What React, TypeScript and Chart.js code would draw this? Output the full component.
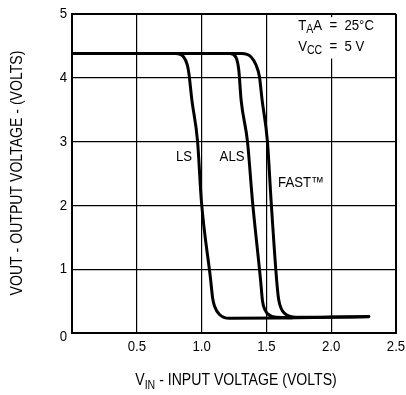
import React, { useEffect, useRef } from "react";
import { Chart, registerables } from "chart.js";

Chart.register(...registerables);

const FONT = '"Liberation Sans", Arial, sans-serif';
const SX = 0.88; // horizontal condensing of all text

const xTicks = [0, 0.5, 1.0, 1.5, 2.0, 2.5];
const yTicks = [0, 1, 2, 3, 4, 5];

const lsX = [0, 0.8, 0.86, 0.89, 0.902, 0.925, 0.969, 0.998, 1.07, 1.085, 1.1, 1.138, 1.215, 1.6, 2.0, 2.29];
const lsY = [4.38, 4.38, 4.33, 4.2, 4.07, 3.65, 3.0, 2.08, 0.83, 0.55, 0.42, 0.29, 0.23, 0.235, 0.245, 0.255];

const alsX = [0, 1.22, 1.265, 1.287, 1.305, 1.354, 1.392, 1.455, 1.47, 1.49, 1.51, 1.575, 1.7];
const alsY = [4.38, 4.38, 4.32, 4.12, 3.65, 3.0, 2.08, 0.83, 0.5, 0.36, 0.3, 0.245, 0.24];

const fastX = [0, 1.31, 1.38, 1.42, 1.446, 1.467, 1.508, 1.536, 1.579, 1.595, 1.615, 1.638, 1.728, 2.0, 2.29];
const fastY = [4.38, 4.38, 4.33, 4.2, 4.02, 3.65, 3.0, 2.08, 0.83, 0.52, 0.38, 0.31, 0.245, 0.25, 0.258];

const seriesNames = ["LS", "ALS", "FAST"];

type Seg = { t: string; sub?: boolean; sup?: boolean };

function segW(ctx: CanvasRenderingContext2D, s: Seg, size: number) {
  ctx.font = `${s.sub || s.sup ? Math.round(size * 0.78) : size}px ${FONT}`;
  return ctx.measureText(s.t).width * SX;
}

function drawSegs(
  ctx: CanvasRenderingContext2D,
  segs: Seg[],
  x: number,
  y: number,
  size: number,
  align: "left" | "center" | "right"
) {
  let total = 0;
  for (const s of segs) total += segW(ctx, s, size);
  let cx = align === "center" ? x - total / 2 : align === "right" ? x - total : x;
  ctx.textAlign = "left";
  ctx.textBaseline = "middle";
  for (const s of segs) {
    const w = segW(ctx, s, size);
    ctx.save();
    ctx.translate(cx, s.sub ? y + size * 0.3 : s.sup ? y - size * 0.3 : y);
    ctx.scale(SX, 1);
    ctx.fillText(s.t, 0, 0);
    ctx.restore();
    cx += w;
  }
}

const annotPlugin = {
  id: "annot",
  afterDraw(chart: any) {
    const ctx: CanvasRenderingContext2D = chart.ctx;
    const xs = chart.scales.x;
    const ys = chart.scales.y;
    const area = chart.chartArea;
    ctx.save();
    // tick labels
    ctx.fillStyle = "#000";
    for (const v of xTicks) {
      if (v === 0) continue;
      drawSegs(ctx, [{ t: v.toFixed(1) }], xs.getPixelForValue(v), area.bottom + 14, 15, "center");
    }
    for (const v of yTicks) {
      drawSegs(ctx, [{ t: String(v) }], area.left - 5, ys.getPixelForValue(v) + (v === 0 ? 4 : 0), 15, "right");
    }
    // curve labels
    drawSegs(ctx, [{ t: "LS" }], xs.getPixelForValue(0.864), ys.getPixelForValue(2.76), 15, "center");
    drawSegs(ctx, [{ t: "ALS" }], xs.getPixelForValue(1.235), ys.getPixelForValue(2.76), 15, "center");
    drawSegs(ctx, [{ t: "FAST" }, { t: "™", sup: false }], xs.getPixelForValue(1.59), ys.getPixelForValue(2.35), 15, "left");
    // condition box
    const bx = xs.getPixelForValue(1.745);
    const top = ys.getPixelForValue(4.95);
    const by1 = ys.getPixelForValue(4.82);
    const by2 = ys.getPixelForValue(4.49);
    ctx.fillStyle = "#fff";
    ctx.fillRect(bx - 4, top, area.right - bx + 3, by2 - top + 12);
    ctx.fillStyle = "#000";
    drawSegs(ctx, [{ t: "T" }, { t: "A", sub: true }, { t: "A  =  25°C" }], bx, by1, 15, "left");
    drawSegs(ctx, [{ t: "V" }, { t: "CC", sub: true }, { t: "  =  5 V" }], bx, by2, 15, "left");
    // axis titles
    drawSegs(ctx, [{ t: "V" }, { t: "IN", sub: true }, { t: " - INPUT VOLTAGE (VOLTS)" }], 236, 381, 16, "center");
    ctx.save();
    ctx.translate(18, 173);
    ctx.rotate(-Math.PI / 2);
    drawSegs(ctx, [{ t: "VOUT - OUTPUT VOLTAGE - (VOLTS)" }], 0, 0, 16, "center");
    ctx.restore();
    ctx.restore();
  },
};

function toPts(xs: number[], ys: number[]) {
  return xs.map((x, i) => ({ x, y: ys[i] }));
}

export default function App() {
  const ref = useRef<HTMLCanvasElement>(null);
  useEffect(() => {
    if (!ref.current) return;
    const gridW = (c: any) => {
      const v = c.tick ? c.tick.value : 0;
      return v === 5 || v === 2.5 || v === 0 ? 2 : 1.2;
    };
    const chart = new Chart(ref.current, {
      type: "line",
      data: {
        datasets: [
          { label: seriesNames[0], data: toPts(lsX, lsY) },
          { label: seriesNames[1], data: toPts(alsX, alsY) },
          { label: seriesNames[2], data: toPts(fastX, fastY) },
        ].map((d) => ({
          ...d,
          borderColor: "#000",
          borderWidth: 3,
          pointRadius: 0,
          fill: false,
          cubicInterpolationMode: "monotone" as const,
          borderCapStyle: "round" as const,
          borderJoinStyle: "round" as const,
        })),
      },
      options: {
        animation: false,
        responsive: true,
        maintainAspectRatio: false,
        layout: { padding: { top: 14, right: 10, left: 0, bottom: 0 } },
        plugins: { legend: { display: false }, tooltip: { enabled: false } },
        scales: {
          x: {
            type: "linear",
            min: 0,
            max: 2.5,
            afterBuildTicks: (s: any) => { s.ticks = xTicks.map((v) => ({ value: v })); },
            afterFit: (s: any) => { s.height = 62; },
            grid: { color: "#000", lineWidth: gridW, drawTicks: false },
            border: { color: "#000", width: 2 },
            ticks: { display: false },
          },
          y: {
            type: "linear",
            min: 0,
            max: 5,
            afterBuildTicks: (s: any) => { s.ticks = yTicks.map((v) => ({ value: v })); },
            afterFit: (s: any) => { s.width = 72; },
            grid: { color: "#000", lineWidth: gridW, drawTicks: false },
            border: { color: "#000", width: 2 },
            ticks: { display: false },
          },
        },
      },
      plugins: [annotPlugin],
    });
    return () => chart.destroy();
  }, []);
  return (
    <div style={{ position: "fixed", left: 0, top: 0, width: 406, height: 395, background: "#fff" }}>
      <canvas ref={ref} />
    </div>
  );
}
